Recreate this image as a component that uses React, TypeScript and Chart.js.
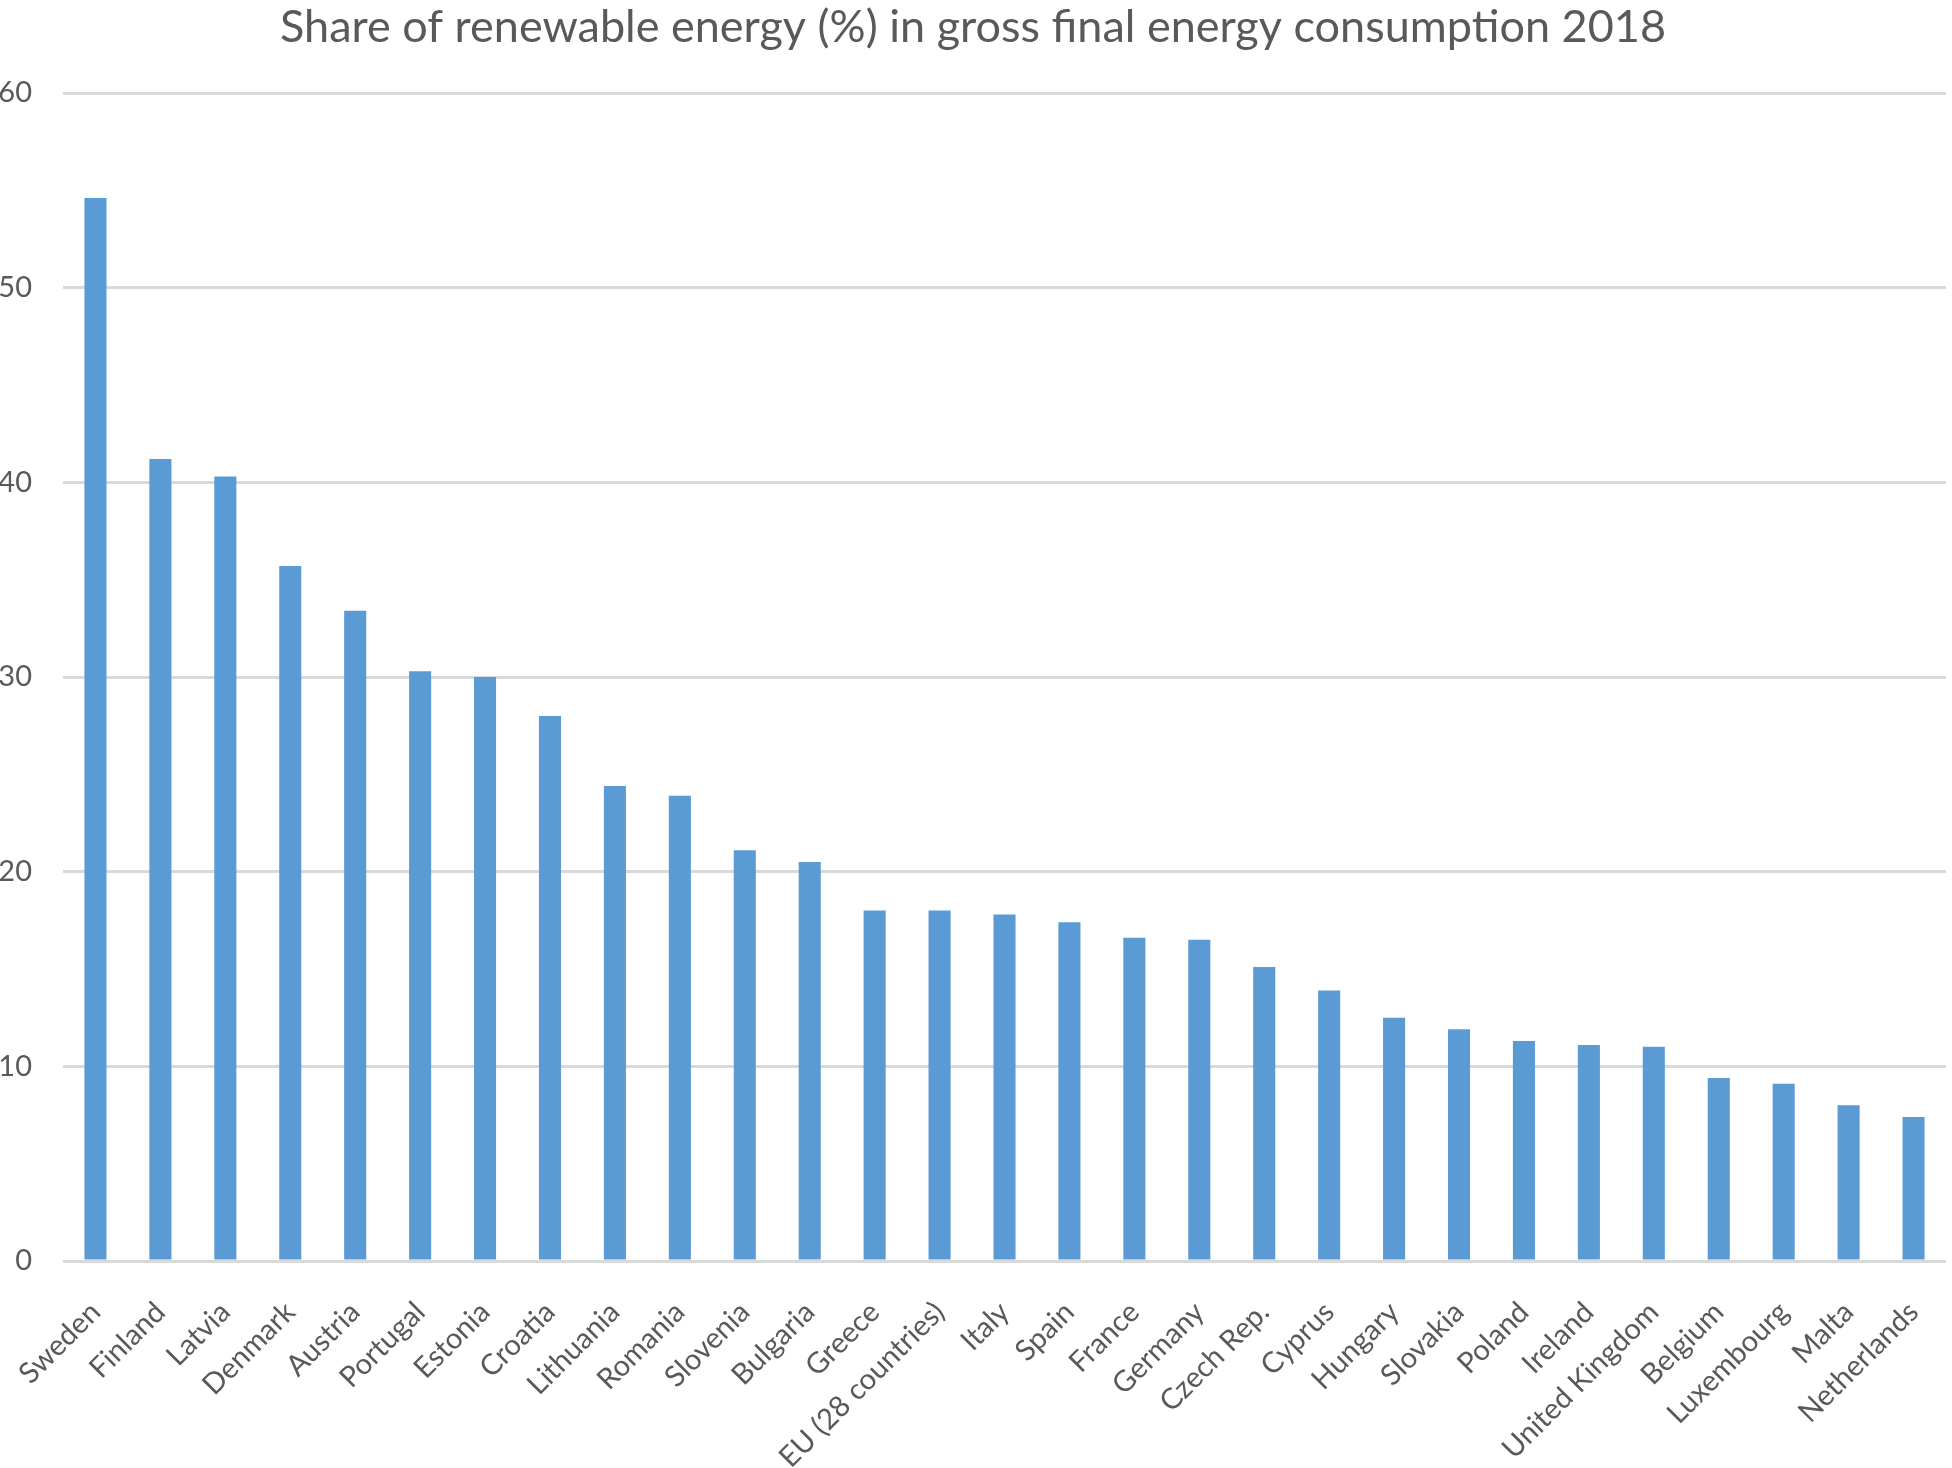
import React, { useEffect, useRef } from 'react';
import { Chart, registerables } from 'chart.js';

Chart.register(...registerables);

const countries = [
  'Sweden', 'Finland', 'Latvia', 'Denmark', 'Austria', 'Portugal', 'Estonia', 'Croatia',
  'Lithuania', 'Romania', 'Slovenia', 'Bulgaria', 'Greece', 'EU (28 countries)', 'Italy',
  'Spain', 'France', 'Germany', 'Czech Rep.', 'Cyprus', 'Hungary', 'Slovakia', 'Poland',
  'Ireland', 'United Kingdom', 'Belgium', 'Luxembourg', 'Malta', 'Netherlands',
];

const shares = [
  54.6, 41.2, 40.3, 35.7, 33.4, 30.3, 30.0, 28.0,
  24.4, 23.9, 21.1, 20.5, 18.0, 18.0, 17.8,
  17.4, 16.6, 16.5, 15.1, 13.9, 12.5, 11.9, 11.3,
  11.1, 11.0, 9.4, 9.1, 8.0, 7.4,
];

const yTicks = [0, 10, 20, 30, 40, 50, 60];

const titleText = 'Share of renewable energy (%) in gross final energy consumption 2018';

const FONT = 'Lato, Carlito, Calibri, sans-serif';
const TEXT_COLOR = '#595959';

export default function App() {
  const ref = useRef<HTMLCanvasElement>(null);

  useEffect(() => {
    if (!ref.current) return;
    const chart = new Chart(ref.current, {
      type: 'bar',
      data: {
        labels: countries,
        datasets: [
          {
            data: shares,
            backgroundColor: '#5b9bd5',
            barPercentage: 0.34,
            categoryPercentage: 1,
          },
        ],
      },
      options: {
        responsive: false,
        animation: false,
        layout: { padding: { left: 0, right: 6, top: 0, bottom: 0 } },
        plugins: {
          legend: { display: false },
          tooltip: { enabled: false },
          title: {
            display: true,
            text: titleText,
            color: TEXT_COLOR,
            font: { family: FONT, size: 45, weight: 'normal', lineHeight: 1.2 },
            padding: { top: 0, bottom: 39 },
          },
        },
        scales: {
          x: {
            grid: { display: false },
            border: { display: false },
            ticks: {
              maxRotation: 45,
              minRotation: 45,
              autoSkip: false,
              padding: 26,
              color: TEXT_COLOR,
              font: { family: FONT, size: 29 },
            },
            afterFit: (s: any) => {
              s.height = 207;
              s.paddingLeft = 0;
              s.paddingRight = 0;
            },
          },
          y: {
            min: yTicks[0],
            max: yTicks[yTicks.length - 1],
            afterBuildTicks: (s: any) => {
              s.ticks = yTicks.map((v) => ({ value: v }));
            },
            ticks: {
              padding: 31,
              color: TEXT_COLOR,
              font: { family: FONT, size: 29 },
            },
            grid: { color: '#d9d9d9', lineWidth: 3, drawTicks: false },
            border: { display: false },
            afterFit: (s: any) => {
              s.width = 63;
            },
          },
        },
      },
    });
    return () => chart.destroy();
  }, []);

  return (
    <div style={{ position: 'absolute', left: 0, top: 0, width: 1952, height: 1468, background: '#fff' }}>
      <canvas ref={ref} width={1952} height={1468} style={{ display: 'block' }} />
    </div>
  );
}
